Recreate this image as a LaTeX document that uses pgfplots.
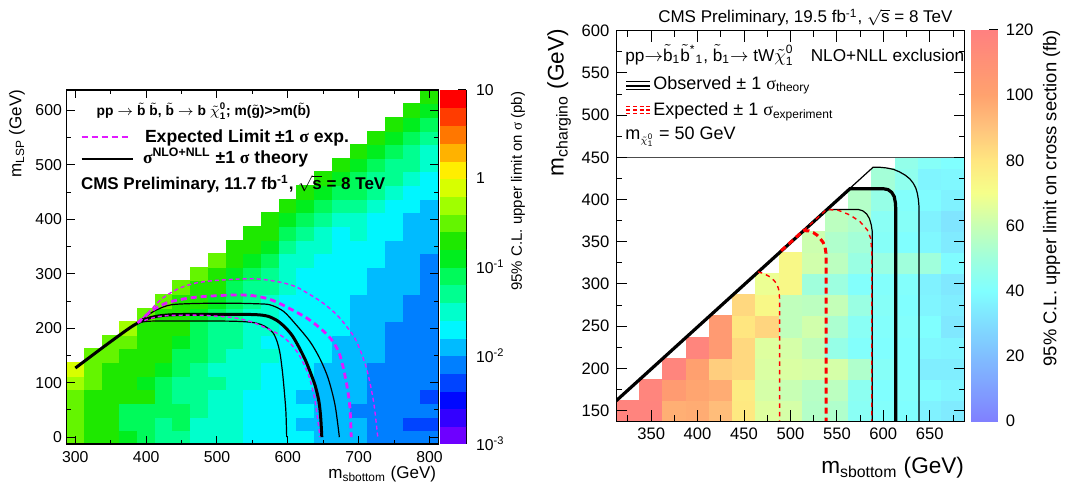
\documentclass[border=0pt]{standalone}
\usepackage{amsmath}
\usepackage{fontspec}
\setmainfont{Liberation Sans}
\newfontfamily\serifgr{Liberation Serif}
\usepackage{pgfplots}
\usepackage{pgfplotstable}
\pgfplotsset{compat=1.18}

\definecolor{magL}{RGB}{225,25,255}
\newcommand{\tld}[1]{\ensuremath{\tilde{\text{#1}}}}
\newcommand{\sig}{{\serifgr σ}}
\newcommand{\chiz}{\ensuremath{\tilde{\chi}^{\text{0}}_{\text{1}}}}
\tikzset{txt/.style={inner sep=0pt, outer sep=0pt}}

% left panel: 95% CL upper limit (pb)
\pgfplotstableread[row sep=\\]{
x y s\\
300 0 .32\\ 300 25 .32\\ 300 50 .32\\ 300 75 .32\\ 300 100 .5\\ 300 125 .8\\
325 0 .2\\ 325 25 .2\\ 325 50 .2\\ 325 75 .2\\ 325 100 .32\\ 325 125 .32\\ 325 150 .32\\
350 0 .2\\ 350 25 .2\\ 350 50 .2\\ 350 75 .2\\ 350 100 .2\\ 350 125 .2\\ 350 150 .32\\ 350 175 .32\\
375 0 .126\\ 375 25 .079\\ 375 50 .079\\ 375 75 .2\\ 375 100 .2\\ 375 125 .2\\ 375 150 .2\\ 375 175 .32\\ 375 200 .5\\
400 0 .079\\ 400 25 .079\\ 400 50 .079\\ 400 75 .2\\ 400 100 .126\\ 400 125 .2\\ 400 150 .2\\ 400 175 .2\\ 400 200 .2\\ 400 225 .32\\
425 0 .05\\ 425 25 .05\\ 425 50 .079\\ 425 75 .079\\ 425 100 .079\\ 425 125 .126\\ 425 150 .2\\ 425 175 .2\\ 425 200 .2\\ 425 225 .2\\ 425 250 .32\\
450 0 .05\\ 450 25 .079\\ 450 50 .079\\ 450 75 .05\\ 450 100 .05\\ 450 125 .079\\ 450 150 .079\\ 450 175 .126\\ 450 200 .2\\ 450 225 .2\\ 450 250 .2\\ 450 275 .32\\
475 0 .032\\ 475 25 .032\\ 475 50 .05\\ 475 75 .05\\ 475 100 .05\\ 475 125 .05\\ 475 150 .079\\ 475 175 .079\\ 475 200 .079\\ 475 225 .126\\ 475 250 .2\\ 475 275 .2\\ 475 300 .32\\
500 0 .032\\ 500 25 .032\\ 500 50 .032\\ 500 75 .032\\ 500 100 .05\\ 500 125 .032\\ 500 150 .05\\ 500 175 .05\\ 500 200 .05\\ 500 225 .079\\ 500 250 .126\\ 500 275 .2\\ 500 300 .2\\ 500 325 .32\\
525 0 .032\\ 525 25 .032\\ 525 50 .032\\ 525 75 .032\\ 525 100 .032\\ 525 125 .032\\ 525 150 .032\\ 525 175 .05\\ 525 200 .05\\ 525 225 .05\\ 525 250 .079\\ 525 275 .079\\ 525 300 .126\\ 525 325 .2\\ 525 350 .2\\
550 0 .02\\ 550 25 .02\\ 550 50 .02\\ 550 75 .02\\ 550 100 .032\\ 550 125 .032\\ 550 150 .032\\ 550 175 .032\\ 550 200 .032\\ 550 225 .032\\ 550 250 .05\\ 550 275 .05\\ 550 300 .079\\ 550 325 .126\\ 550 350 .2\\ 550 375 .2\\
575 0 .02\\ 575 25 .02\\ 575 50 .02\\ 575 75 .02\\ 575 100 .02\\ 575 125 .02\\ 575 150 .032\\ 575 175 .02\\ 575 200 .032\\ 575 225 .032\\ 575 250 .032\\ 575 275 .05\\ 575 300 .05\\ 575 325 .079\\ 575 350 .126\\ 575 375 .2\\ 575 400 .2\\
600 0 .02\\ 600 25 .02\\ 600 50 .02\\ 600 75 .02\\ 600 100 .02\\ 600 125 .02\\ 600 150 .02\\ 600 175 .02\\ 600 200 .02\\ 600 225 .02\\ 600 250 .02\\ 600 275 .032\\ 600 300 .032\\ 600 325 .032\\ 600 350 .05\\ 600 375 .079\\ 600 400 .126\\ 600 425 .2\\
625 0 .02\\ 625 25 .0126\\ 625 50 .02\\ 625 75 .0126\\ 625 100 .02\\ 625 125 .02\\ 625 150 .02\\ 625 175 .02\\ 625 200 .02\\ 625 225 .02\\ 625 250 .02\\ 625 275 .02\\ 625 300 .02\\ 625 325 .032\\ 625 350 .032\\ 625 375 .05\\ 625 400 .079\\ 625 425 .126\\ 625 450 .2\\
650 0 .0126\\ 650 25 .0126\\ 650 50 .0126\\ 650 75 .0126\\ 650 100 .0126\\ 650 125 .0126\\ 650 150 .02\\ 650 175 .02\\ 650 200 .02\\ 650 225 .02\\ 650 250 .02\\ 650 275 .02\\ 650 300 .02\\ 650 325 .02\\ 650 350 .032\\ 650 375 .032\\ 650 400 .05\\ 650 425 .079\\ 650 450 .126\\ 650 475 .2\\
675 0 .0126\\ 675 25 .0126\\ 675 50 .0126\\ 675 75 .0126\\ 675 100 .0126\\ 675 125 .0126\\ 675 150 .0126\\ 675 175 .0126\\ 675 200 .02\\ 675 225 .02\\ 675 250 .02\\ 675 275 .02\\ 675 300 .02\\ 675 325 .02\\ 675 350 .02\\ 675 375 .02\\ 675 400 .032\\ 675 425 .05\\ 675 450 .079\\ 675 475 .126\\ 675 500 .2\\
700 0 .0126\\ 700 25 .0126\\ 700 50 .0079\\ 700 75 .0126\\ 700 100 .0126\\ 700 125 .0126\\ 700 150 .0126\\ 700 175 .0126\\ 700 200 .0126\\ 700 225 .0126\\ 700 250 .0126\\ 700 275 .02\\ 700 300 .02\\ 700 325 .02\\ 700 350 .02\\ 700 375 .032\\ 700 400 .032\\ 700 425 .05\\ 700 450 .079\\ 700 475 .079\\ 700 500 .126\\ 700 525 .2\\
725 0 .0079\\ 725 25 .0079\\ 725 50 .0079\\ 725 75 .0079\\ 725 100 .0079\\ 725 125 .0079\\ 725 150 .0126\\ 725 175 .0126\\ 725 200 .0126\\ 725 225 .0126\\ 725 250 .0126\\ 725 275 .0126\\ 725 300 .0126\\ 725 325 .02\\ 725 350 .02\\ 725 375 .02\\ 725 400 .02\\ 725 425 .032\\ 725 450 .05\\ 725 475 .05\\ 725 500 .079\\ 725 525 .126\\ 725 550 .2\\
750 0 .0079\\ 750 25 .0079\\ 750 50 .0079\\ 750 75 .0079\\ 750 100 .0079\\ 750 125 .0079\\ 750 150 .0079\\ 750 175 .0079\\ 750 200 .0079\\ 750 225 .0126\\ 750 250 .0126\\ 750 275 .0126\\ 750 300 .0126\\ 750 325 .0126\\ 750 350 .0126\\ 750 375 .02\\ 750 400 .02\\ 750 425 .02\\ 750 450 .032\\ 750 475 .05\\ 750 500 .05\\ 750 525 .079\\ 750 550 .126\\ 750 575 .2\\
775 0 .0079\\ 775 25 .005\\ 775 50 .0079\\ 775 75 .0079\\ 775 100 .0079\\ 775 125 .0079\\ 775 150 .0079\\ 775 175 .0079\\ 775 200 .0079\\ 775 225 .0079\\ 775 250 .0079\\ 775 275 .0126\\ 775 300 .0126\\ 775 325 .0126\\ 775 350 .0126\\ 775 375 .0126\\ 775 400 .0126\\ 775 425 .02\\ 775 450 .02\\ 775 475 .032\\ 775 500 .05\\ 775 525 .05\\ 775 550 .079\\ 775 575 .126\\ 775 600 .2\\
800 0 .0079\\ 800 25 .005\\ 800 50 .0079\\ 800 75 .005\\ 800 100 .0079\\ 800 125 .0079\\ 800 150 .0079\\ 800 175 .0079\\ 800 200 .0079\\ 800 225 .0079\\ 800 250 .0079\\ 800 275 .0079\\ 800 300 .0079\\ 800 325 .0079\\ 800 350 .0126\\ 800 375 .0126\\ 800 400 .0126\\ 800 425 .0126\\ 800 450 .02\\ 800 475 .02\\ 800 500 .032\\ 800 525 .032\\ 800 550 .05\\ 800 575 .079\\ 800 600 .126\\ 800 625 .2\\
}\leftdata

% right panel: 95% CL upper limit (fb)
\pgfplotstableread[row sep=\\]{
x y v\\
325 150 118\\
350 150 118\\ 350 175 117\\
375 150 96\\ 375 175 104\\ 375 200 117\\
400 150 97\\ 400 175 99\\ 400 200 101\\ 400 225 117\\
425 150 92\\ 425 175 97\\ 425 200 87\\ 425 225 105\\ 425 250 105\\
450 150 79\\ 450 175 78\\ 450 200 84\\ 450 225 84\\ 450 250 80\\ 450 275 84\\
475 150 65\\ 475 175 63\\ 475 200 64\\ 475 225 65\\ 475 250 85\\ 475 275 73\\ 475 300 68\\
500 150 63\\ 500 175 60\\ 500 200 64\\ 500 225 63\\ 500 250 58\\ 500 275 58\\ 500 300 73\\ 500 325 73\\
525 150 55\\ 525 175 56\\ 525 200 63\\ 525 225 58\\ 525 250 62\\ 525 275 57\\ 525 300 50\\ 525 325 62\\ 525 350 61\\
550 150 54\\ 550 175 57\\ 550 200 63\\ 550 225 47\\ 550 250 53\\ 550 275 59\\ 550 300 49\\ 550 325 57\\ 550 350 54\\ 550 375 57\\
575 150 43\\ 575 175 44\\ 575 200 54\\ 575 225 41\\ 575 250 43\\ 575 275 48\\ 575 300 41\\ 575 325 48\\ 575 350 51\\ 575 375 54\\ 575 400 55\\
600 150 41\\ 600 175 40\\ 600 200 42\\ 600 225 40\\ 600 250 41\\ 600 275 42\\ 600 300 41\\ 600 325 48\\ 600 350 42\\ 600 375 43\\ 600 400 47\\ 600 425 51\\
625 150 40\\ 625 175 41\\ 625 200 40\\ 625 225 40\\ 625 250 41\\ 625 275 40\\ 625 300 41\\ 625 325 50\\ 625 350 40\\ 625 375 42\\ 625 400 41\\ 625 425 45\\ 625 450 46\\
650 150 36\\ 650 175 39\\ 650 200 35\\ 650 225 38\\ 650 250 40\\ 650 275 37\\ 650 300 36\\ 650 325 50\\ 650 350 38\\ 650 375 36\\ 650 400 39\\ 650 425 37\\ 650 450 42\\
675 150 34\\ 675 175 37\\ 675 200 35\\ 675 225 37\\ 675 250 33\\ 675 275 35\\ 675 300 33\\ 675 325 39\\ 675 350 34\\ 675 375 32\\ 675 400 36\\ 675 425 38\\ 675 450 40\\
}\rightdata

\pgfplotsset{
  rootL/.style={
    colormap={rootL}{rgb255=(110,0,255) rgb255=(51,0,255) rgb255=(0,8,255) rgb255=(0,68,255)
      rgb255=(0,127,255) rgb255=(0,187,255) rgb255=(0,246,255) rgb255=(0,255,204)
      rgb255=(0,255,144) rgb255=(0,250,90) rgb255=(0,238,30) rgb255=(30,232,0)
      rgb255=(100,245,0) rgb255=(160,255,0) rgb255=(215,255,0) rgb255=(255,238,0)
      rgb255=(255,178,0) rgb255=(255,119,0) rgb255=(255,60,0) rgb255=(255,0,0)},
    colormap access=piecewise constant,
    point meta min=-3, point meta max=1},
  rootP/.style={
    colormap={rootP}{rgb255=(128,128,255) rgb255=(128,160,255) rgb255=(128,190,255) rgb255=(128,222,255)
      rgb255=(128,255,255) rgb255=(160,255,220) rgb255=(200,255,180) rgb255=(245,255,138)
      rgb255=(255,230,128) rgb255=(255,195,125) rgb255=(255,162,110) rgb255=(255,145,118) rgb255=(255,128,128)},
    point meta min=0, point meta max=120},
  cbaxis/.style={
    scale only axis, xmin=0, xmax=1, xtick=\empty,
    axis x line=none, axis y line*=right,
    ytick pos=right, yticklabel pos=right, tick align=inside,
    every tick/.style={black, line width=0.5pt},
    axis line style={line width=0.6pt, -},
    clip marker paths=true},
}

\begin{document}
\begin{tikzpicture}
\useasboundingbox (0,0) rectangle (532.5pt,242.5pt);

%================ LEFT PANEL ================
\begin{axis}[
  rootL,
  at={(33.25pt,20.5pt)}, anchor=south west,
  scale only axis, width=185.9pt, height=177pt,
  xmin=287.5, xmax=812.5, ymin=-12.5, ymax=637.5,
  xtick={300,400,...,800}, minor xtick={350,450,...,750},
  ytick={0,100,...,600}, minor ytick={50,150,...,650},
  tick align=inside, axis on top, clip marker paths=true,
  major tick length=4pt, minor tick length=2pt,
  every tick/.style={black, line width=0.5pt},
  axis line style={line width=0.6pt},
  /pgf/number format/assume math mode=true,
  ticklabel style={font=\fontsize{7.9}{9}\selectfont},
  yticklabel style={xshift=1.2pt},
]
\addplot[scatter, only marks, mark=square*, mark size=4.426pt,
  mark options={yscale=0.769, line width=0.25pt}, point meta=explicit,
  scatter/use mapped color={draw=mapped color, fill=mapped color}]
  table[x=x, y=y, meta expr={log10(\thisrow{s})}] {\leftdata};
% observed +1 sigma theory
\addplot[black, line width=0.6pt, smooth, tension=0.5] coordinates {
 (388,210) (400,222) (415,234) (435,243) (470,245.5) (520,246) (555,245) (575,243) (594,231)
 (612,206) (631,176) (645,145) (657,108) (666.7,59) (672.8,0)};
% observed -1 sigma theory
\addplot[black, line width=0.6pt, smooth, tension=0.5] coordinates {
 (388,210) (405,213) (450,213.5) (520,213) (548,211) (562,207) (572,200) (579.5,191) (585,175)
 (589,154) (592,125) (593.6,105) (596,70) (597.4,44) (598.4,0)};
% observed
\addplot[black, line width=1.5pt, smooth, tension=0.5] coordinates {
 (300,127) (340,166) (375,199) (390,211) (405,219) (420,223) (440,225) (480,225.5) (520,225.5)
 (555,225) (572,222) (585,214) (596,202) (606,187) (615,167) (625,141) (633,115) (639,93)
 (644,65) (646.5,35) (648,0)};
% expected +1 sigma (thin dashed)
\addplot[magL, line width=0.7pt, dash pattern=on 2pt off 1.5pt, smooth, tension=0.5] coordinates {
 (388,210) (400,225) (423,255) (446,273) (470,283) (500,288) (550,291) (584,286) (610,277)
 (631,262) (650,246) (669,225) (685,200) (697,176) (711,127) (721,66) (727,0)};
% expected -1 sigma (thin dashed)
\addplot[magL, line width=0.7pt, dash pattern=on 2pt off 1.5pt, smooth, tension=0.5] coordinates {
 (388,210) (420,222) (470,224) (520,220) (548,212) (570,200) (590,187) (603,173) (614,155)
 (622,136) (629,115) (634,93) (638,70) (641,44) (644,15) (645,0)};
% expected (thick dashed)
\addplot[magL, line width=1.4pt, dash pattern=on 3pt off 2pt, smooth, tension=0.5] coordinates {
 (388,210) (400,224) (415,238) (435,249) (470,257) (520,261) (550,260) (575,253) (597,240)
 (630,216) (658,185) (672.6,154) (682,105) (687.6,56) (689.5,0)};
\end{axis}

% left colour scale
\begin{axis}[
  rootL, cbaxis,
  at={(220pt,20.5pt)}, anchor=south west,
  width=13pt, height=177pt, ymin=-3, ymax=1,
  ytick={-3,-2,-1,0,1},
  yticklabels={10\textsuperscript{-3},10\textsuperscript{-2},10\textsuperscript{-1},1,10},
  minor ytick={-2.699,-2.523,-2.398,-2.301,-2.222,-2.155,-2.097,-2.046,
               -1.699,-1.523,-1.398,-1.301,-1.222,-1.155,-1.097,-1.046,
               -0.699,-0.523,-0.398,-0.301,-0.222,-0.155,-0.097,-0.046,
               0.301,0.477,0.602,0.699,0.778,0.845,0.903,0.954},
  major tick length=3.8pt, minor tick length=2pt,
  yticklabel style={font=\fontsize{7.9}{9}\selectfont, xshift=1.5pt},
]
\addplot[scatter, only marks, mark=square*, mark size=6.5pt,
  mark options={yscale=0.681, line width=0.25pt}, point meta=y,
  scatter/use mapped color={draw=mapped color, fill=mapped color}]
  coordinates {(0.5,-2.9) (0.5,-2.7) (0.5,-2.5) (0.5,-2.3) (0.5,-2.1) (0.5,-1.9) (0.5,-1.7)
  (0.5,-1.5) (0.5,-1.3) (0.5,-1.1) (0.5,-0.9) (0.5,-0.7) (0.5,-0.5) (0.5,-0.3) (0.5,-0.1)
  (0.5,0.1) (0.5,0.3) (0.5,0.5) (0.5,0.7) (0.5,0.9)};
\end{axis}

%================ RIGHT PANEL ================
\begin{axis}[
  rootP,
  at={(308.15pt,31.9pt)}, anchor=south west,
  scale only axis, width=174.15pt, height=195.25pt,
  xmin=312.5, xmax=687.5, ymin=137.5, ymax=600,
  xtick={350,400,...,650}, minor xtick={325,375,...,675},
  ytick={150,200,...,600}, minor ytick={175,225,...,575},
  tick align=inside, axis on top, clip marker paths=true,
  major tick length=5.5pt, minor tick length=3pt,
  every tick/.style={black, line width=0.5pt},
  axis line style={line width=0.6pt},
  /pgf/number format/assume math mode=true,
  ticklabel style={font=\fontsize{8.3}{9}\selectfont},
]
\addplot[scatter, only marks, mark=square*, mark size=5.805pt,
  mark options={yscale=0.909, line width=0.25pt}, point meta=explicit,
  scatter/use mapped color={draw=mapped color, fill=mapped color}]
  table[x=x, y=y, meta=v] {\rightdata};
% legend box
\fill[white] (axis cs:312.5,450) rectangle (axis cs:687.5,600);
\draw[black!70, line width=0.6pt] (axis cs:312.5,450) -- (axis cs:687.5,450);
% observed -1 sigma
\addplot[black, line width=0.6pt] coordinates {
 (312.5,161.8) (539,388.3) (573,388.3) (578,386.6) (582,383) (585,377.5) (587,370) (588.1,362) (588.1,137.5)};
% observed +1 sigma
\addplot[black, line width=0.6pt] coordinates {
 (312.5,161.8) (589,438.3) (596.4,438.2) (603,437.5) (610.8,435.8) (617,433) (623.4,429) (628.5,424.5)
 (632.3,419.2) (635,413.5) (636.6,407.4) (637.8,399.5) (638.4,391.5) (638.4,137.5)};
% observed
\addplot[black, line width=1.6pt] coordinates {
 (312.5,161.8) (564,412.8) (600,412.8) (605,411.8) (609,408.5) (611.7,403.5) (613,396) (613.4,388) (613.4,137.5)};
% expected -1 sigma
\addplot[red, line width=0.7pt, dash pattern=on 2.2pt off 2pt] coordinates {
 (465,314.3) (471,312.5) (477.7,308.6) (482,304.5) (484.8,300.8) (487,295) (487.7,290.9) (488.4,281) (488.4,137.5)};
% expected +1 sigma
\addplot[red, line width=0.7pt, dash pattern=on 2.2pt off 2pt] coordinates {
 (514,363.3) (539,388.3) (551.5,387.3) (564.1,381.7) (574.9,373.8) (582.8,363.9) (586.4,354) (587.5,340.3) (587.5,137.5)};
% expected
\addplot[red, line width=1.5pt, dash pattern=on 3pt off 2pt] coordinates {
 (490,339.3) (514,363.3) (520,362.8) (524.6,360.8) (528.5,358) (531.8,354.1) (535,349.5) (537.2,344.2) (538.3,336) (538.3,332.3) (538.5,137.5)};
\end{axis}

% right colour scale
\begin{axis}[
  rootP, cbaxis,
  at={(485.5pt,31.9pt)}, anchor=south west,
  width=13.35pt, height=195.6pt, ymin=0, ymax=120,
  ytick={0,20,...,120},
  major tick length=4.5pt,
  /pgf/number format/assume math mode=true,
  yticklabel style={font=\fontsize{8.3}{9}\selectfont, xshift=0.5pt},
]
\addplot[surf, shader=interp, point meta=y, mesh/cols=2] table[row sep=\\] {x y\\ 0 0\\ 1 0\\ 0 120\\ 1 120\\};
\end{axis}

%================ TEXT ================
% left
\node[txt, rotate=90, anchor=east, font=\fontsize{8.5}{10}\selectfont] at (8.5pt,197.5pt) {m\textsubscript{LSP} (GeV)};
\node[txt, anchor=east, font=\fontsize{8.5}{10}\selectfont] at (218pt,5.5pt) {m\textsubscript{sbottom} (GeV)};
\node[txt, rotate=90, anchor=east, font=\fontsize{7.5}{9}\selectfont] at (259pt,196.6pt) {95\% C.L. upper limit on \sig{} (pb)};
\node[txt, anchor=base west, font=\bfseries\fontsize{6.9}{8}\selectfont] at (48.35pt,184.5pt)
  {pp $\rightarrow$ \tld{b} \tld{b}, \tld{b} $\rightarrow$ b \chiz; m(\tld{g})>\kern0pt>m(\tld{b})};
\draw[magL, line width=1.2pt, dash pattern=on 3pt off 2pt] (40.85pt,173.85pt) -- (64.15pt,173.85pt);
\node[txt, anchor=base west, font=\bfseries\fontsize{8.8}{10}\selectfont] at (72.5pt,171.2pt) {Expected Limit ±1 \sig{} exp.};
\draw[black, line width=1.2pt] (40.85pt,162.85pt) -- (66.65pt,162.85pt);
\node[txt, anchor=base west, font=\bfseries\fontsize{8.8}{10}\selectfont] at (71.5pt,160.5pt) {\sig\textsuperscript{NLO+NLL} ±1 \sig{} theory};
\node[txt, anchor=base west, font=\bfseries\fontsize{8.5}{10}\selectfont] at (40.5pt,147.8pt)
  {CMS Preliminary, 11.7 fb\textsuperscript{-1}, $\sqrt{\text{s}}$ = 8 TeV};

% right
\node[txt, anchor=base, font=\fontsize{8.5}{10}\selectfont] at (402.7pt,231pt)
  {CMS Preliminary, 19.5 fb\textsuperscript{-1}, $\sqrt{\text{s}}$ = 8 TeV};
\node[txt, rotate=90, anchor=east, font=\fontsize{11.3}{13}\selectfont] at (279.5pt,228pt) {m\textsubscript{chargino} (GeV)};
\node[txt, anchor=east, font=\fontsize{11.3}{13}\selectfont] at (482pt,8.5pt) {m\textsubscript{sbottom} (GeV)};
\node[txt, rotate=90, anchor=east, font=\fontsize{9.2}{11}\selectfont] at (525.85pt,227.5pt) {95\% C.L. upper limit on cross section (fb)};

\node[txt, anchor=base west, font=\fontsize{8.6}{11}\selectfont] at (312.7pt,211.8pt)
  {pp$\rightarrow$\tld{b}\textsubscript{1}\tld{b}\textsuperscript{*}\textsubscript{1}, \tld{b}\textsubscript{1}$\rightarrow$ tW\chiz\quad NLO+NLL exclusion};
\draw[black, line width=0.5pt] (313.2pt,201.6pt) -- (325pt,201.6pt);
\draw[black, line width=1.3pt] (313.2pt,199.5pt) -- (325pt,199.5pt);
\draw[black, line width=0.5pt] (313.2pt,197.5pt) -- (325pt,197.5pt);
\node[txt, anchor=base west, font=\fontsize{9}{11}\selectfont] at (326.7pt,197.8pt) {Observed ± 1 \sig\textsubscript{theory}};
\draw[red, line width=0.5pt, dash pattern=on 2pt off 1.3pt] (313.2pt,189.3pt) -- (325pt,189.3pt);
\draw[red, line width=1.3pt, dash pattern=on 2pt off 1.3pt] (313.2pt,187.5pt) -- (325pt,187.5pt);
\draw[red, line width=0.5pt, dash pattern=on 2pt off 1.3pt] (313.2pt,185.5pt) -- (325pt,185.5pt);
\node[txt, anchor=base west, font=\fontsize{9}{11}\selectfont] at (326.7pt,184.5pt) {Expected ± 1 \sig\textsubscript{experiment}};
\node[txt, anchor=base west, font=\fontsize{9}{11}\selectfont] at (312.7pt,172.6pt)
  {m\textsubscript{\scalebox{0.8}{$\tilde{\chi}^{\text{0}}_{\text{1}}$}} = 50 GeV};
\end{tikzpicture}
\end{document}
